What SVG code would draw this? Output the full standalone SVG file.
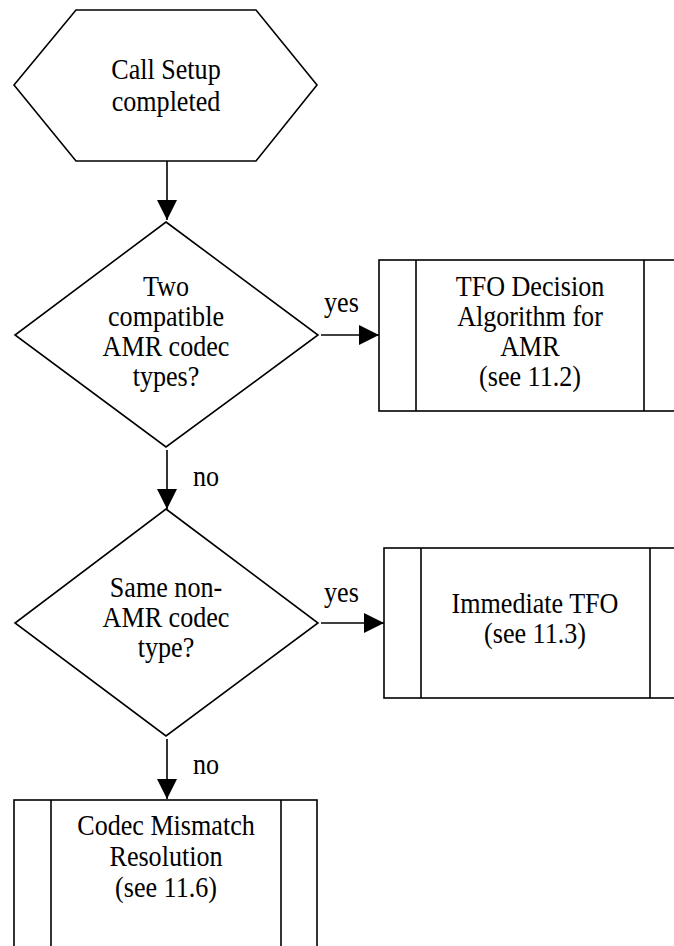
<svg xmlns="http://www.w3.org/2000/svg" width="674" height="946" viewBox="0 0 674 946">
<style>
.s{fill:#fff;stroke:#000;stroke-width:1.6}
.l{fill:none;stroke:#000;stroke-width:1.6}
.t{font-family:"Liberation Serif","Times New Roman",serif;font-size:29px;fill:#000;text-anchor:middle}
.lb{font-family:"Liberation Serif","Times New Roman",serif;font-size:29px;fill:#000}
</style>
<defs>
<marker id="ah" markerUnits="userSpaceOnUse" markerWidth="20" markerHeight="20" refX="20" refY="10" orient="auto" viewBox="0 0 20 20">
<path d="M0,0 L20,10 L0,20 Z" fill="#000"/>
</marker>
</defs>
<rect width="674" height="946" fill="#fff"/>
<g id="start">
<polygon class="s" points="76,10 256,10 317,85 256,161 76,161 14,85"/>
<g transform="matrix(0.9 0 0 1 166 0)">
<text class="t" x="0" y="79">Call Setup</text>
<text class="t" x="0" y="111">completed</text>
</g>
</g>
<g id="dec1">
<polygon class="s" points="166,222 318,335 166,447 15,335"/>
<g transform="matrix(0.9 0 0 1 166 0)">
<text class="t" x="0" y="296">Two</text>
<text class="t" x="0" y="326">compatible</text>
<text class="t" x="0" y="356">AMR codec</text>
<text class="t" x="0" y="386">types?</text>
</g>
</g>
<g id="tfo_amr">
<rect class="s" x="379" y="260" width="302" height="151"/>
<line class="l" x1="416" y1="260" x2="416" y2="411"/>
<line class="l" x1="644" y1="260" x2="644" y2="411"/>
<g transform="matrix(0.9 0 0 1 530 0)">
<text class="t" x="0" y="296">TFO Decision</text>
<text class="t" x="0" y="326">Algorithm for</text>
<text class="t" x="0" y="356">AMR</text>
<text class="t" x="0" y="386">(see 11.2)</text>
</g>
</g>
<g id="dec2">
<polygon class="s" points="166,509 318,623 166,736 15,623"/>
<g transform="matrix(0.9 0 0 1 166 0)">
<text class="t" x="0" y="597">Same non-</text>
<text class="t" x="0" y="627">AMR codec</text>
<text class="t" x="0" y="657">type?</text>
</g>
</g>
<g id="immediate">
<rect class="s" x="384" y="548" width="303" height="150"/>
<line class="l" x1="421" y1="548" x2="421" y2="698"/>
<line class="l" x1="650" y1="548" x2="650" y2="698"/>
<g transform="matrix(0.9 0 0 1 535 0)">
<text class="t" x="0" y="613">Immediate TFO</text>
<text class="t" x="0" y="643">(see 11.3)</text>
</g>
</g>
<g id="mismatch">
<rect class="s" x="14" y="800" width="303" height="150"/>
<line class="l" x1="51" y1="800" x2="51" y2="950"/>
<line class="l" x1="281" y1="800" x2="281" y2="950"/>
<g transform="matrix(0.9 0 0 1 166 0)">
<text class="t" x="0" y="835">Codec Mismatch</text>
<text class="t" x="0" y="866">Resolution</text>
<text class="t" x="0" y="897">(see 11.6)</text>
</g>
</g>
<g id="connectors">
<line class="l" x1="167" y1="161" x2="167" y2="220" marker-end="url(#ah)"/>
<line class="l" x1="321" y1="335" x2="379" y2="335" marker-end="url(#ah)"/>
<line class="l" x1="167" y1="450" x2="167" y2="509" marker-end="url(#ah)"/>
<line class="l" x1="321" y1="623" x2="384" y2="623" marker-end="url(#ah)"/>
<line class="l" x1="167" y1="739" x2="167" y2="799" marker-end="url(#ah)"/>
<text class="lb" transform="matrix(0.9 0 0 1 324 0)" x="0" y="312">yes</text>
<text class="lb" transform="matrix(0.9 0 0 1 324 0)" x="0" y="602">yes</text>
<text class="lb" transform="matrix(0.9 0 0 1 193 0)" x="0" y="486">no</text>
<text class="lb" transform="matrix(0.9 0 0 1 193 0)" x="0" y="774">no</text>
</g>
</svg>
